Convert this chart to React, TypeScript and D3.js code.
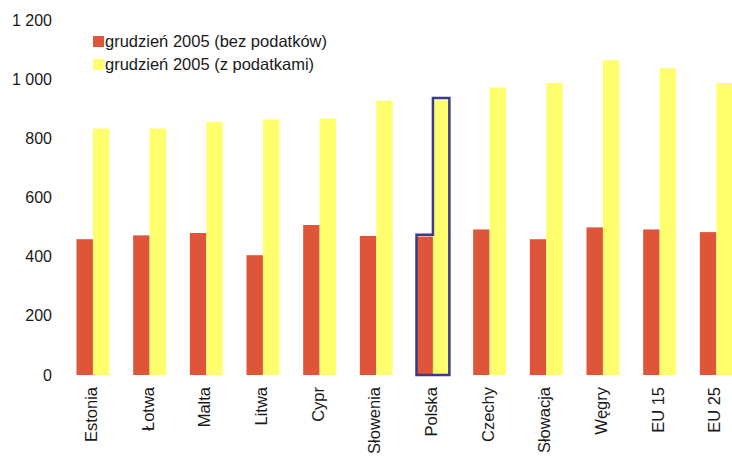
import React from "react";
import * as d3 from "d3";

const categories = ["Estonia", "Łotwa", "Malta", "Litwa", "Cypr", "Słowenia", "Polska", "Czechy", "Słowacja", "Węgry", "EU 15", "EU 25"];
const seriesNames = ["grudzień 2005 (bez podatków)", "grudzień 2005 (z podatkami)"];
const withoutTax = [459, 472, 480, 405, 507, 470, 468, 492, 459, 499, 492, 483];
const withTax = [833, 833, 856, 864, 867, 927, 928, 972, 987, 1064, 1037, 987];
const yTicks = [0, 200, 400, 600, 800, 1000, 1200];
const highlighted = "Polska";
const highlightedRedOutline = 474;
const highlightedYellowOutline = 936;

const W = 732;
const H = 456;
const colors = ["#df553a", "#ffff6e"];
const FONT = "'Liberation Sans', Arial, sans-serif";

function fmt(v: number) {
  return v >= 1000 ? `${Math.floor(v / 1000)} ${String(v % 1000).padStart(3, "0")}` : String(v);
}

export default function App() {
  const y = d3.scaleLinear().domain([0, 1200]).range([375, 20]);
  const x = d3.scaleBand<string>().domain(categories).range([64.6, 744.6]).paddingInner(0.42).paddingOuter(0.21);
  const xs = d3.scaleBand<number>().domain([0, 1]).range([0, x.bandwidth()]);
  const series = [withoutTax, withTax];

  const hx = x(highlighted)!;
  const hPath = d3.path();
  hPath.moveTo(hx + xs(0)!, y(0));
  hPath.lineTo(hx + xs(0)!, y(highlightedRedOutline));
  hPath.lineTo(hx + xs(1)!, y(highlightedRedOutline));
  hPath.lineTo(hx + xs(1)!, y(highlightedYellowOutline));
  hPath.lineTo(hx + xs(1)! + xs.bandwidth(), y(highlightedYellowOutline));
  hPath.lineTo(hx + xs(1)! + xs.bandwidth(), y(0));
  hPath.closePath();

  return (
    <svg width={W} height={H} style={{ position: "absolute", left: 0, top: 0, background: "#fff" }} fontFamily={FONT}>
      {yTicks.map((t) => (
        <text key={t} x={52} y={y(t)} textAnchor="end" dominantBaseline="central" fontSize={16} fill="#1a1a1a">
          {fmt(t)}
        </text>
      ))}
      {categories.map((c, i) => (
        <g key={c}>
          {series.map((s, k) => (
            <rect key={k} x={x(c)! + xs(k)!} y={y(s[i])} width={xs.bandwidth()} height={y(0) - y(s[i])} fill={colors[k]} />
          ))}
          <text
            transform={`translate(${x(c)! + x.bandwidth() / 2 + 4},${387}) rotate(-90)`}
            textAnchor="end"
            fontSize={16.5}
            fill="#1a1a1a"
          >
            {c}
          </text>
        </g>
      ))}
      <path d={hPath.toString()} fill="none" stroke="#3b3b86" strokeWidth={2.5} />
      {seriesNames.map((n, k) => (
        <g key={n} transform={`translate(93,${41 + k * 23})`}>
          <rect x={0} y={-5} width={11} height={11} fill={colors[k]} />
          <text x={12} y={0} dominantBaseline="central" fontSize={16.5} fill="#1a1a1a">
            {n}
          </text>
        </g>
      ))}
    </svg>
  );
}
